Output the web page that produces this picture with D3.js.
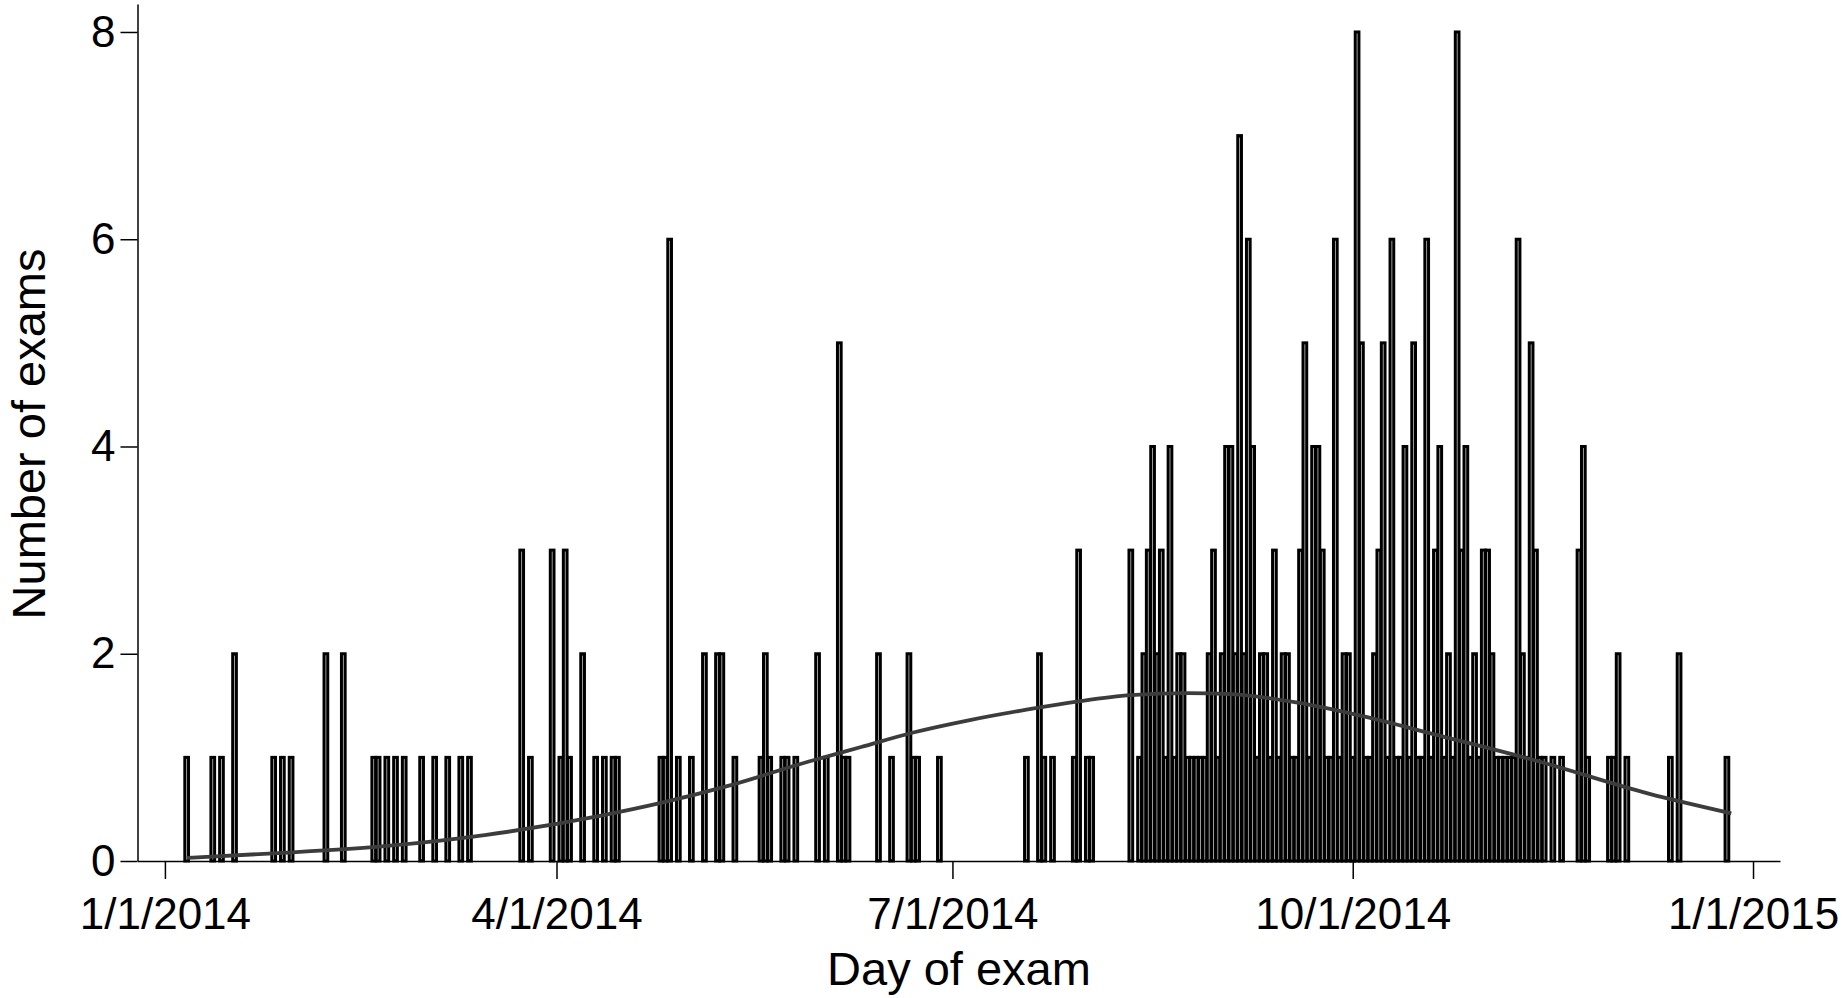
<!DOCTYPE html>
<html>
<head>
<meta charset="utf-8">
<script src="https://cdn.jsdelivr.net/npm/d3@7"></script>
<style>
  body { margin: 0; background: #fff; }
  text { font-family: "Liberation Sans", Arial, sans-serif; }
</style>
</head>
<body>
<div id="chart"></div>
<script>
// days since 1 Jan 2014 and number of exams that day
var examDay = [5,11,13,16,25,27,29,37,41,48,49,51,53,55,59,62,65,68,70,82,84,89,91,92,93,96,99,101,103,104,
  114,115,116,118,121,124,127,128,131,137,138,139,142,143,145,150,152,155,156,157,164,167,171,172,173,178,
  198,201,202,204,209,210,212,213,
  222,224,225,226,227,228,229,230,231,232,233,234,235,236,237,238,239,240,241,242,243,244,245,246,247,248,249,250,
  251,252,253,254,255,256,257,258,259,260,261,262,263,264,265,266,267,268,269,270,271,272,273,274,275,276,277,278,279,280,
  281,282,283,284,285,286,287,288,289,290,291,292,293,294,295,296,297,298,299,300,301,302,303,304,305,306,307,308,309,310,
  311,312,313,314,315,316,317,319,321,325,326,327,332,333,334,336,346,348,359];
var examCount = [1,1,1,2,1,1,1,2,2,1,1,1,1,1,1,1,1,1,1,3,1,3,1,3,1,2,1,1,1,1,
  1,1,6,1,1,2,2,2,1,1,2,1,1,1,1,2,1,5,1,1,2,1,2,1,1,1,
  1,2,1,1,1,3,1,1,
  3,1,2,3,4,2,3,1,4,1,2,2,1,1,1,1,1,2,3,1,2,4,4,2,7,2,6,4,
  1,2,2,1,3,1,2,2,1,1,3,5,1,4,4,3,1,1,6,1,2,2,1,8,5,1,1,2,3,5,
  1,6,1,1,4,1,5,1,1,6,1,3,4,1,2,1,8,3,4,1,2,1,3,3,2,1,1,1,1,1,
  6,2,1,5,3,1,1,1,1,3,4,1,1,1,2,1,1,2,1];

// smoothed trend
var trendDay = [5,25,51,73.5,100,114,129,148,160,172,185,198,210,222,235,245,260,275,292,315,341,360];
var trendValue = [0.03,0.074,0.145,0.25,0.435,0.56,0.72,0.96,1.10,1.24,1.36,1.46,1.54,1.60,1.62,1.61,1.53,1.40,1.22,0.97,0.65,0.46];

var xTickLabels = ["1/1/2014","4/1/2014","7/1/2014","10/1/2014","1/1/2015"];
var yTicks = [0,2,4,6,8];

var width = 1842, height = 998;
var start = Date.UTC(2014,0,1);
var parseTick = d3.utcParse("%m/%d/%Y");
var tickDays = xTickLabels.map(function(s){ return d3.utcDay.count(new Date(start), parseTick(s)); });

var svg = d3.select("#chart").append("svg")
    .attr("width", width)
    .attr("height", height);

var x = d3.scaleLinear().domain([-6.3, 371.2]).range([137.5, 1780]);
var y = d3.scaleLinear().domain([0, 8.27]).range([861, 4]);
var dayW = x(1) - x(0);
var barW = dayW - 0.65;

var data = examDay.map(function(d, i){ return {day: d, n: examCount[i]}; });

svg.append("g").selectAll("rect")
    .data(data)
  .enter().append("rect")
    .attr("x", function(d){ return x(d.day) - barW/2; })
    .attr("y", function(d){ return y(d.n); })
    .attr("width", barW)
    .attr("height", function(d){ return y(0) - y(d.n); })
    .attr("fill", "#d8d8d8")
    .attr("stroke", "#000")
    .attr("stroke-width", 3);

var line = d3.line()
    .x(function(d){ return x(d[0]); })
    .y(function(d){ return y(d[1]); })
    .curve(d3.curveMonotoneX);

svg.append("path")
    .datum(trendDay.map(function(d, i){ return [d, trendValue[i]]; }))
    .attr("d", line)
    .attr("fill", "none")
    .attr("stroke", "#3c3c3c")
    .attr("stroke-width", 3.8);

// axes
svg.append("g")
    .attr("transform", "translate(0," + y(0) + ")")
    .call(d3.axisBottom(x)
      .tickValues(tickDays)
      .tickFormat(function(d, i){ return xTickLabels[i]; })
      .tickSize(18).tickSizeOuter(0).tickPadding(19));

svg.append("g")
    .attr("transform", "translate(" + x(-6.3) + ",0)")
    .call(d3.axisLeft(y).tickValues(yTicks).tickSize(17).tickSizeOuter(0).tickPadding(5));

svg.selectAll(".tick text").attr("font-size", 44).attr("fill", "#000")
    .style("font-family", "'Liberation Sans', Arial, sans-serif");
svg.selectAll(".domain, .tick line").attr("stroke", "#000").attr("stroke-width", 1.5);

svg.append("text")
    .attr("x", 959).attr("y", 985)
    .attr("text-anchor", "middle")
    .attr("font-size", 47)
    .text("Day of exam");

svg.append("text")
    .attr("transform", "translate(45,434) rotate(-90)")
    .attr("text-anchor", "middle")
    .attr("font-size", 47)
    .text("Number of exams");
</script>
</body>
</html>
